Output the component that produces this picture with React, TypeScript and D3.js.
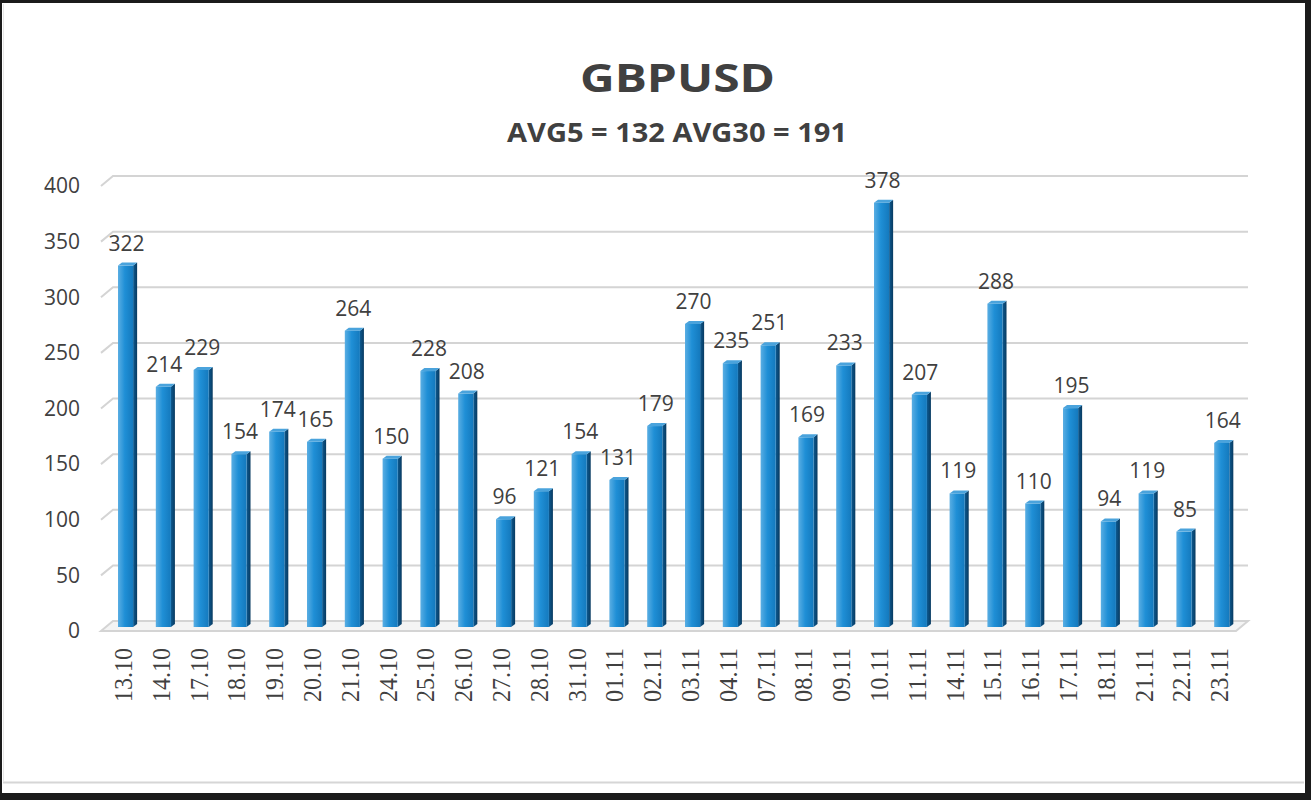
import React from "react";
import * as d3 from "d3";

const dates = ["13.10","14.10","17.10","18.10","19.10","20.10","21.10","24.10","25.10","26.10","27.10","28.10","31.10","01.11","02.11","03.11","04.11","07.11","08.11","09.11","10.11","11.11","14.11","15.11","16.11","17.11","18.11","21.11","22.11","23.11"];
const values = [322,214,229,154,174,165,264,150,228,208,96,121,154,131,179,270,235,251,169,233,378,207,119,288,110,195,94,119,85,164];
const yTicks = [0,50,100,150,200,250,300,350,400];
const title = "GBPUSD";
const subtitle = "AVG5 = 132 AVG30 = 191";

const W = 1311, H = 800;
const TXT = "#404040";
const SANS = "'Open Sans', 'Liberation Sans', sans-serif";
const SERIF = "'Liberation Serif', 'DejaVu Serif', serif";

export default function App() {
  const x = d3.scaleBand<string>().domain(dates).range([106.66, 106.66 + 1134]).paddingInner(0.6).paddingOuter(0.3);
  const yBar = d3.scaleLinear().domain([0, 400]).range([627, 178]);
  const yBack = d3.scaleLinear().domain([0, 400]).range([621, 176]);
  const bw = x.bandwidth();
  const dx = 4, dy = 3;
  const gx0 = 113, gx1 = 1248, off = 12, offY = 10;

  return (
    <svg width={W} height={H} style={{ position: "absolute", left: 0, top: 0, display: "block" }}>
      <defs>
        <linearGradient id="front" x1="0" x2="1" y1="0" y2="0">
          <stop offset="0" stopColor="#5aaee3" />
          <stop offset="0.45" stopColor="#1f8fd6" />
          <stop offset="1" stopColor="#1479bd" />
        </linearGradient>
        <linearGradient id="side" x1="0" x2="1" y1="0" y2="0">
          <stop offset="0" stopColor="#0d5a91" />
          <stop offset="1" stopColor="#083a60" />
        </linearGradient>
      </defs>
      <rect x={0} y={0} width={W} height={H} fill="#1b1b1b" />
      <rect x={2} y={3} width={1303} height={790} fill="#ffffff" />
      <line x1={3} x2={1304} y1={782.5} y2={782.5} stroke="#d6d6d6" strokeWidth={2} />
      <line x1={3.5} x2={3.5} y1={4} y2={782} stroke="#e6e6e6" strokeWidth={1} />

      <text x={677.5} y={92} textAnchor="middle" fontFamily={SANS} fontWeight={700} fontSize={40} fill={TXT} textLength={195} lengthAdjust="spacingAndGlyphs">{title}</text>
      <text x={677} y={142} textAnchor="middle" fontFamily={SANS} fontWeight={700} fontSize={27} fill={TXT} textLength={340} lengthAdjust="spacingAndGlyphs">{subtitle}</text>

      {yTicks.filter(t => t > 0).map(t => (
        <polyline key={"g" + t} points={`${gx0 - off},${yBack(t) + offY} ${gx0},${yBack(t)} ${gx1},${yBack(t)}`} fill="none" stroke="#d4d4d4" strokeWidth={2} />
      ))}
      <polygon points={`${gx0 - off},${yBack(0) + offY} ${gx0},${yBack(0)} ${gx1},${yBack(0)} ${gx1 - off},${yBack(0) + offY}`} fill="#f4f4f4" stroke="#d4d4d4" strokeWidth={2} />

      {yTicks.map(t => (
        <text key={"yt" + t} x={80} y={yBack(t) + offY} dy="0.35em" textAnchor="end" fontFamily={SANS} fontSize={21} fill={TXT}>{t}</text>
      ))}

      {dates.map((d, i) => {
        const bx = x(d)!;
        const top = yBar(values[i]);
        const base = yBar(0);
        return (
          <g key={d}>
            <polygon points={`${bx + bw},${top} ${bx + bw + dx},${top - dy} ${bx + bw + dx},${base - dy} ${bx + bw},${base}`} fill="url(#side)" />
            <rect x={bx} y={top} width={bw} height={base - top} fill="url(#front)" />
            <polygon points={`${bx},${top} ${bx + dx},${top - dy} ${bx + bw + dx},${top - dy} ${bx + bw},${top}`} fill="#4aa3dc" />
            <text x={bx + bw / 2 + 1} y={top - 15} textAnchor="middle" fontFamily={SANS} fontSize={21} fill={TXT}>{values[i]}</text>
            <text transform={`translate(${bx + 14},648) rotate(-90)`} textAnchor="end" fontFamily={SERIF} fontSize={25} fill={TXT} textLength={54} lengthAdjust="spacingAndGlyphs">{d}</text>
          </g>
        );
      })}
    </svg>
  );
}
